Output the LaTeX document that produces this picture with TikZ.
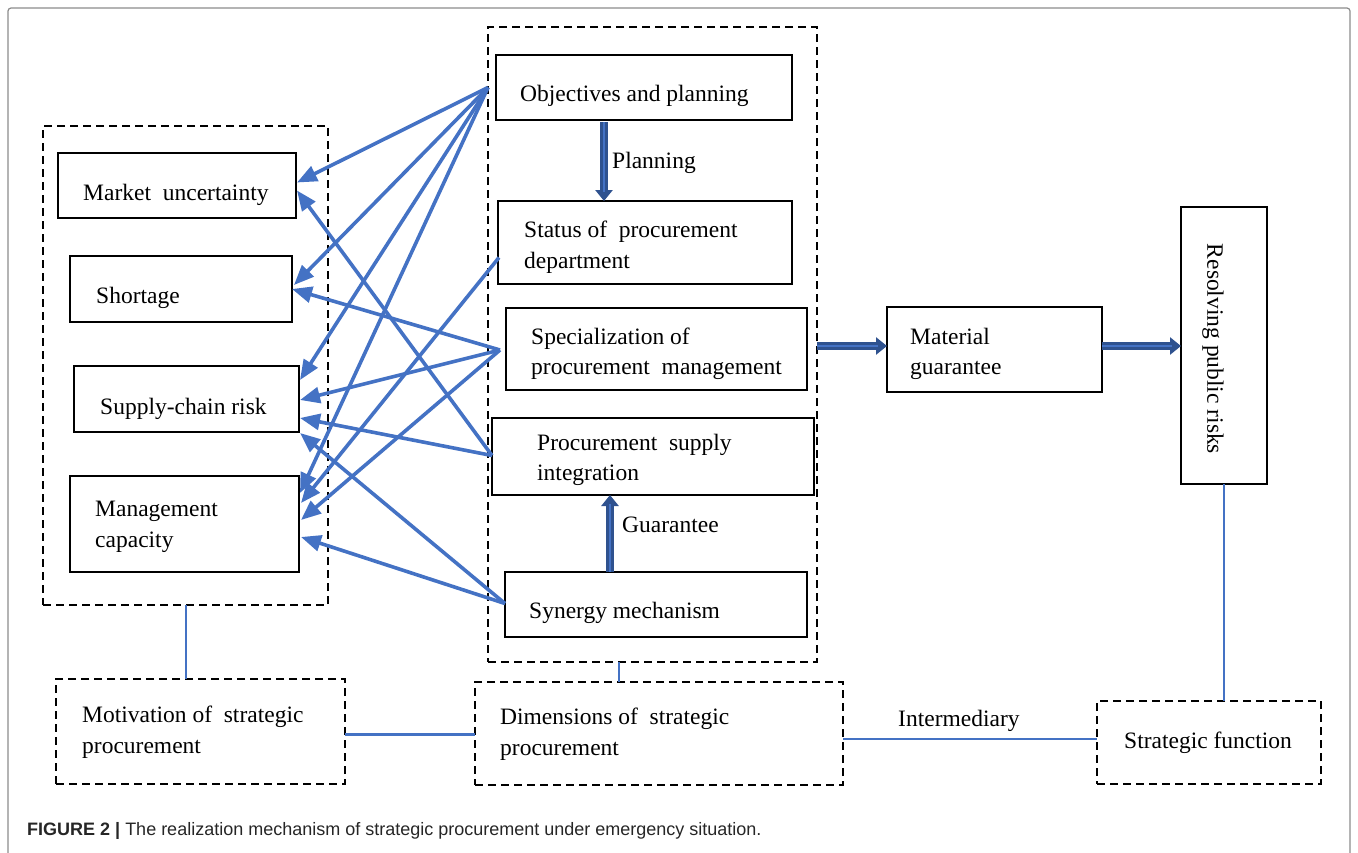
\documentclass[tikz,border=0pt]{standalone}
\usepackage{fontspec}
\setmainfont{Liberation Serif}
\newfontfamily\capfont{Liberation Sans}
\usetikzlibrary{arrows.meta,calc}
\definecolor{linkblue}{HTML}{4472C4}
\definecolor{navyblue}{HTML}{2F528F}
\begin{document}
\begin{tikzpicture}[x=1pt,y=-1pt,
  box/.style={draw, line width=2pt, inner sep=0pt, outer sep=0pt},
  dbox/.style={draw, line width=2.2pt, dash pattern=on 8pt off 5pt, inner sep=0pt, outer sep=0pt},
  txt/.style={anchor=west, align=left, inner sep=0pt, font=\fontsize{23.5}{30.5}\selectfont},
  link/.style={linkblue, line width=3.6pt, -{Triangle[length=20pt,width=16pt]}},
  thinlink/.style={linkblue, line width=2pt},
  blockshaft/.style={navyblue, line width=8pt, -{Triangle[length=11pt,width=17pt]}},
  blockcore/.style={linkblue, line width=2.6pt, shorten >=9pt}
]
\useasboundingbox (0,0) rectangle (1358,852);
% outer frame, open at the bottom edge
\begin{scope}
\clip (0,0) rectangle (1358,852);
\draw[black!45, line width=1.2pt, rounded corners=3pt] (8,8) rectangle (1350,870);
\end{scope}

% dashed groups
\node[dbox, minimum width=285pt, minimum height=479pt] (lgrp) at (185.5,365.5) {};
\node[dbox, minimum width=329pt, minimum height=635pt] (mgrp) at (652.5,344.5) {};

% left column: motivations
\node[box, minimum width=238pt, minimum height=65pt] (mkt) at (177,185.5) {};
\node[txt] (tmkt) at (83,195) {Market\ \ uncertainty};
\node[box, minimum width=222pt, minimum height=66pt] (sho) at (181,289) {};
\node[txt] (tsho) at (96,298) {Shortage};
\node[box, minimum width=225pt, minimum height=66pt] (scr) at (186.5,399) {};
\node[txt] (tscr) at (100,409) {Supply-chain risk};
\node[box, minimum width=229pt, minimum height=96pt] (mgc) at (184.5,524) {};
\node[txt] (tmgc) at (95,527) {Management\\capacity};

% middle column: dimensions
\node[box, minimum width=296pt, minimum height=65pt] (obj) at (644,87.5) {};
\node[txt] (tobj) at (520,96) {Objectives and planning};
\node[box, minimum width=294pt, minimum height=83pt] (sta) at (645,242.5) {};
\node[txt] (tsta) at (524,247) {Status of\ \ procurement\\department};
\node[box, minimum width=301pt, minimum height=82pt] (spe) at (656.5,349) {};
\node[txt] (tspe) at (531,354) {Specialization of\\procurement\ \ management};
\node[box, minimum width=322pt, minimum height=77pt] (ing) at (653,456.5) {};
\node[txt] (ting) at (537,460) {Procurement\ \ supply\\integration};
\node[box, minimum width=302pt, minimum height=65pt] (syn) at (656,604.5) {};
\node[txt] (tsyn) at (529,613) {Synergy mechanism};

% right column
\node[box, minimum width=215pt, minimum height=85pt] (mat) at (994.5,349.5) {};
\node[txt] (tmat) at (910,354) {Material\\guarantee};
\node[box, minimum width=86pt, minimum height=277pt] (res) at (1224,345.5) {};
\node[rotate=-90, inner sep=0pt, font=\fontsize{23.5}{30.5}\selectfont] (tres) at (1213,349) {Resolving public risks};

% bottom row
\node[dbox, minimum width=289pt, minimum height=105pt] (mot) at (200.5,731.5) {};
\node[txt] (tmot) at (82,732) {Motivation of\ \ strategic\\procurement};
\node[dbox, minimum width=368pt, minimum height=103pt] (dim) at (659,733.5) {};
\node[txt] (tdim) at (500,734) {Dimensions of\ \ strategic\\procurement};
\node[dbox, minimum width=224pt, minimum height=83pt] (sfn) at (1209,742.5) {};
\node[txt] (tsfn) at (1124,743) {Strategic function};

% links from the dimensions to the motivations
\coordinate (oL) at ($(obj.west)+(-8,0)$);
\coordinate (sL) at ($(sta.west)+(1,15)$);
\coordinate (pL) at ($(spe.west)+(-6,1)$);
\coordinate (iL) at ($(ing.west)+(0,-1)$);
\coordinate (yL) at ($(syn.west)+(0,-1)$);

\draw[link] (oL) -- ($(mkt.east)+(1,-3)$);
\draw[link] (oL) -- ($(sho.east)+(2,-4)$);
\draw[link] (oL) -- ($(scr.east)+(1,-19)$);
\draw[link] (oL) -- ($(mgc.east)+(1,-31)$);
\draw[link] (sL) -- ($(mgc.east)+(2,-21)$);
\draw[link] (pL) -- ($(sho.east)+(0,0)$);
\draw[link] (pL) -- ($(scr.east)+(1,1)$);
\draw[link] (pL) -- ($(mgc.east)+(2,-4)$);
\draw[link] (iL) -- ($(mkt.east)+(1,5)$);
\draw[link] (iL) -- ($(scr.east)+(1,19)$);
\draw[link] (yL) -- ($(scr.east)+(1,34)$);
\draw[link] (yL) -- ($(mgc.east)+(2,13)$);

% block arrows
\coordinate (pa) at ($(obj.south)+(-40,2)$);
\coordinate (pb) at ($(sta.north)+(-41,0)$);
\draw[blockshaft] (pa) -- (pb);
\draw[blockcore] (pa) -- (pb);
\node[txt] (tpla) at (612,163) {Planning};
\coordinate (ga) at ($(syn.north)+(-46,0)$);
\coordinate (gb) at ($(ing.south)+(-43,0)$);
\draw[blockshaft] (ga) -- (gb);
\draw[blockcore] (ga) -- (gb);
\node[txt] (tgua) at (622,525) {Guarantee};
\coordinate (ma) at (mgrp.east |- 0,346);
\coordinate (mb) at (mat.west |- 0,346);
\draw[blockshaft] (ma) -- (mb);
\draw[blockcore] (ma) -- (mb);
\coordinate (ra) at (mat.east |- 0,346);
\coordinate (rb) at (res.west |- 0,346);
\draw[blockshaft] (ra) -- (rb);
\draw[blockcore] (ra) -- (rb);

% thin connectors between the groups
\draw[thinlink] (lgrp.south) -- (lgrp.south |- mot.north);
\coordinate (mg) at ($(mgrp.south)+(-34,0)$);
\draw[thinlink] (mg) -- (mg |- dim.north);
\draw[thinlink] (res.south) -- (res.south |- sfn.north);
\coordinate (md) at ($(mot.east)+(0,3)$);
\draw[thinlink, line width=2.8pt] (md) -- (md -| dim.west);
\coordinate (ds) at ($(dim.east)+(0,5)$);
\draw[thinlink] (ds) -- (ds -| sfn.west);
\node[txt] (tint) at (898,721) {Intermediary};

% caption
\node[anchor=west, inner sep=0pt, text=black!85, font=\capfont\fontsize{18}{21}\selectfont] (cap) at (27,831)
  {\textbf{FIGURE 2 |} The realization mechanism of strategic procurement under emergency situation.};
\end{tikzpicture}
\end{document}
